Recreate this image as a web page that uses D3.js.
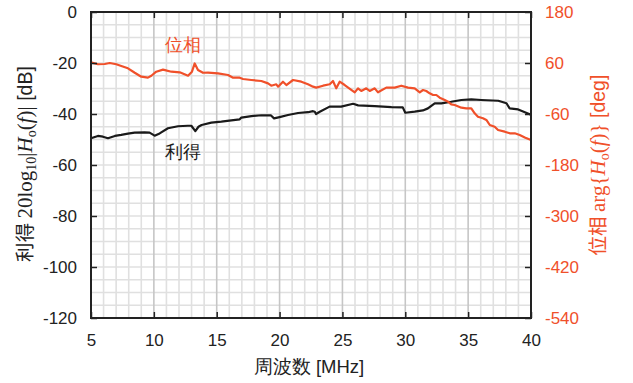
<!DOCTYPE html>
<html>
<head>
<meta charset="utf-8">
<script src="https://cdn.jsdelivr.net/npm/d3@7"></script>
<style>
  html, body { margin: 0; padding: 0; background: #fff; }
  svg { display: block; }
  text { font-family: "Liberation Sans", Arial, sans-serif; }
</style>
</head>
<body>
<svg id="chart" width="633" height="383"></svg>
<script>
// Frequency response of H_o(f): gain (left axis, dB) and phase (right axis, deg)
const gainFreq = [5.0, 5.55, 5.95, 6.35, 6.9, 7.4, 7.94, 8.47, 9.26, 9.66, 10.06, 10.46, 11.12, 11.92, 12.7, 12.98, 13.3, 13.55, 13.8, 14.57, 15.37, 16.16, 16.83, 16.96, 17.76, 18.55, 19.3, 19.56, 20.0, 20.67, 21.47, 22.26, 22.66, 22.8, 22.9, 23.2, 23.98, 24.9, 25.85, 26.25, 27.57, 28.9, 29.8, 30.0, 30.75, 31.4, 31.8, 32.34, 32.87, 33.66, 34.46, 35.25, 36.05, 37.4, 38.05, 38.3, 38.98, 40.0];
const gainDb = [-49.5, -48.6, -48.9, -49.5, -48.6, -48.2, -47.7, -47.3, -47.2, -47.3, -48.5, -47.6, -45.6, -44.8, -44.6, -44.6, -46.7, -45.0, -44.3, -43.4, -43.0, -42.5, -42.1, -41.4, -40.8, -40.5, -40.5, -41.7, -41.2, -40.4, -39.6, -39.3, -38.9, -39.1, -40.0, -39.1, -37.1, -37.1, -36.0, -36.6, -36.9, -37.3, -37.4, -39.5, -39.1, -38.6, -37.8, -35.8, -35.8, -35.2, -34.5, -34.3, -34.5, -34.8, -35.8, -37.8, -38.2, -40.3];

const phaseFreq = [5.0, 5.56, 6.09, 6.49, 7.01, 7.41, 7.94, 8.48, 9.0, 9.53, 9.8, 10.19, 10.73, 11.39, 12.06, 12.72, 13.03, 13.25, 13.51, 13.91, 14.31, 15.1, 15.9, 16.3, 16.83, 17.09, 17.75, 18.55, 19.08, 19.34, 19.74, 19.88, 20.27, 20.54, 21.07, 21.73, 22.26, 22.66, 22.92, 23.46, 23.99, 24.25, 24.51, 24.78, 25.18, 25.98, 26.24, 26.5, 26.9, 27.17, 27.57, 27.83, 28.49, 29.16, 29.68, 30.22, 30.75, 31.15, 31.41, 31.67, 31.94, 32.21, 32.47, 32.74, 33.14, 33.4, 33.66, 33.93, 34.46, 34.85, 35.25, 35.52, 35.78, 36.18, 36.45, 36.72, 37.11, 37.38, 37.91, 38.31, 38.71, 39.1, 39.55, 40.0];
const phaseDeg = [61.6, 57, 57.6, 60, 57, 53, 47.5, 37, 27.8, 25.5, 30, 39.5, 44.3, 39.5, 38, 30, 39.5, 59, 43.5, 37, 37.2, 35.7, 31.8, 25.5, 25.5, 22.4, 20, 17.6, 12, 6.6, 9.9, 4.3, 16, 8.2, 20, 16, 10, 4.3, 2, 6.6, 10, 17.6, 0.4, 16, 8.2, -9, 0.4, -5.9, 0.4, -5.9, 0.4, -9, 2, 2, 6.6, 2, 0.4, -9, -3.5, -5.9, -11.3, -15.3, -15.3, -21.6, -27, -31, -37.2, -38.8, -45.2, -46.6, -46.6, -58.4, -66.3, -70, -74, -85.9, -89.9, -97.6, -101.6, -105.4, -105.4, -109.4, -115.7, -121];

const xTicks = [5, 10, 15, 20, 25, 30, 35, 40];
const gainTicks = [0, -20, -40, -60, -80, -100, -120];
const phaseTicks = [180, 60, -60, -180, -300, -420, -540];

const ORANGE = "#f0502a";
const margin = { left: 91, right: 102, top: 12, bottom: 65 };
const W = 633, H = 383;
const iw = W - margin.left - margin.right;
const ih = H - margin.top - margin.bottom;

const svg = d3.select("#chart");
const g = svg.append("g").attr("transform", `translate(${margin.left},${margin.top})`);

const x = d3.scaleLinear().domain([5, 40]).range([0, iw]);
const yL = d3.scaleLinear().domain([-120, 0]).range([ih, 0]);
const yR = d3.scaleLinear().domain([-540, 180]).range([ih, 0]);

// grid: minor every 1 MHz / 5 dB, major vertical every 5 MHz
const minorX = d3.range(5, 40.01, 1);
const minorY = d3.range(-120, 0.01, 5);
g.append("g").selectAll("line").data(minorY).join("line")
  .attr("x1", 0).attr("x2", iw)
  .attr("y1", d => yL(d)).attr("y2", d => yL(d))
  .attr("stroke", "#e0e0e0").attr("stroke-width", 1.6);
g.append("g").selectAll("line").data(minorX.filter(d => d % 5 !== 0)).join("line")
  .attr("x1", d => x(d)).attr("x2", d => x(d))
  .attr("y1", 0).attr("y2", ih)
  .attr("stroke", "#e0e0e0").attr("stroke-width", 1.6);
g.append("g").selectAll("line").data(xTicks).join("line")
  .attr("x1", d => x(d)).attr("x2", d => x(d))
  .attr("y1", 0).attr("y2", ih)
  .attr("stroke", "#c6c6c6").attr("stroke-width", 1.6);

// data lines
const gainLine = d3.line().x((d, i) => x(gainFreq[i])).y(d => yL(d));
const phaseLine = d3.line().x((d, i) => x(phaseFreq[i])).y(d => yR(d));

g.append("path").datum(gainDb).attr("d", gainLine)
  .attr("fill", "none").attr("stroke", "#1a1a1a").attr("stroke-width", 2.2).attr("stroke-linejoin", "round");
g.append("path").datum(phaseDeg).attr("d", phaseLine)
  .attr("fill", "none").attr("stroke", ORANGE).attr("stroke-width", 2.2).attr("stroke-linejoin", "round");

// axes with inward ticks; plain hyphen for negatives
const fmt = d => String(d);
const axL = d3.axisLeft(yL).tickValues(gainTicks).tickSize(-6).tickPadding(14).tickFormat(fmt);
const axR = d3.axisRight(yR).tickValues(phaseTicks).tickSize(-6).tickPadding(14).tickFormat(fmt);
const axB = d3.axisBottom(x).tickValues(xTicks).tickSize(-6).tickPadding(16).tickFormat(fmt);
const axT = d3.axisTop(x).tickValues(xTicks).tickSize(-6).tickFormat("");

function styleAxis(sel, color) {
  sel.select(".domain").remove();
  sel.selectAll(".tick line").attr("stroke", "#222").attr("stroke-width", 1.5);
  sel.selectAll("text").attr("font-size", 17).attr("fill", color)
    .attr("font-family", "'Liberation Sans', Arial, sans-serif");
}
g.append("g").call(axL).call(s => styleAxis(s, "#222"));
g.append("g").attr("transform", `translate(${iw},0)`).call(axR).call(s => styleAxis(s, ORANGE));
g.append("g").attr("transform", `translate(0,${ih})`).call(axB).call(s => styleAxis(s, "#222"));
g.append("g").call(axT).call(s => styleAxis(s, "#222"));

// frame
g.append("rect").attr("width", iw).attr("height", ih)
  .attr("fill", "none").attr("stroke", "#222").attr("stroke-width", 2);

// series labels
const cjk = "'Noto Sans CJK JP', sans-serif";
g.append("text").attr("x", x(12.3)).attr("y", yL(-15.2)).attr("text-anchor", "middle")
  .attr("font-size", 18).attr("fill", ORANGE)
  .attr("font-family", cjk).text("位相");
g.append("text").attr("x", x(12.3)).attr("y", yL(-57.3)).attr("text-anchor", "middle")
  .attr("font-size", 18).attr("fill", "#1a1a1a")
  .attr("font-family", cjk).text("利得");

// x-axis title
svg.append("text").attr("x", margin.left + iw / 2 - 2).attr("y", 373).attr("text-anchor", "middle")
  .attr("font-size", 18.5).attr("fill", "#222")
  .attr("font-family", cjk)
  .text("周波数 [MHz]");

// left y-axis title
const serif = "'Liberation Serif', 'Times New Roman', serif";
const sans = "'Liberation Sans', Arial, sans-serif";
const lt = svg.append("text")
  .attr("transform", `translate(32,${margin.top + ih / 2 - 1}) rotate(-90)`)
  .attr("text-anchor", "middle").attr("font-size", 19.5).attr("fill", "#222");
lt.append("tspan").attr("font-family", cjk).text("利得 ");
lt.append("tspan").attr("font-family", serif).attr("font-size", 21).text("20log");
lt.append("tspan").attr("font-family", serif).attr("font-size", 14).attr("dy", 4).text("10");
lt.append("tspan").attr("font-family", serif).attr("font-size", 21).attr("dy", -4).text("|");
lt.append("tspan").attr("font-family", serif).attr("font-size", 21).attr("font-style", "italic").text("H");
lt.append("tspan").attr("font-family", serif).attr("font-size", 14).attr("dy", 4).text("o");
lt.append("tspan").attr("font-family", serif).attr("font-size", 21).attr("dy", -4).text("(");
lt.append("tspan").attr("font-family", serif).attr("font-size", 21).attr("font-style", "italic").text("f");
lt.append("tspan").attr("font-family", serif).attr("font-size", 21).text(")|");
lt.append("tspan").attr("font-family", sans).text(" [dB]");

// right y-axis title
const rt = svg.append("text")
  .attr("transform", `translate(605,${margin.top + ih / 2}) rotate(-90)`)
  .attr("text-anchor", "middle").attr("font-size", 19.5).attr("fill", ORANGE);
rt.append("tspan").attr("font-family", cjk).text("位相 ");
rt.append("tspan").attr("font-family", serif).attr("font-size", 21).text("arg{");
rt.append("tspan").attr("font-family", serif).attr("font-size", 21).attr("font-style", "italic").text("H");
rt.append("tspan").attr("font-family", serif).attr("font-size", 14).attr("dy", 4).text("o");
rt.append("tspan").attr("font-family", serif).attr("font-size", 21).attr("dy", -4).text("(");
rt.append("tspan").attr("font-family", serif).attr("font-size", 21).attr("font-style", "italic").text("f");
rt.append("tspan").attr("font-family", serif).attr("font-size", 21).text(")}");
rt.append("tspan").attr("font-family", sans).text(" [deg]");
</script>
</body>
</html>
